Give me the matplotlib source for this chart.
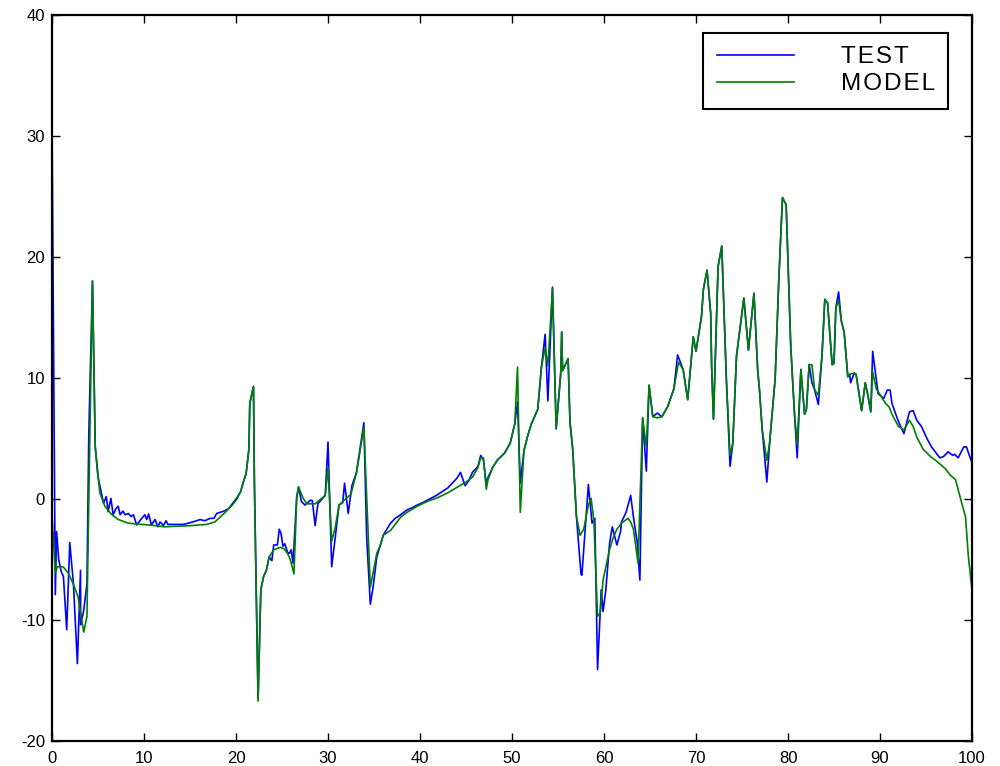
import matplotlib
matplotlib.use('Agg')
import matplotlib.pyplot as plt

# TEST response (blue)
test_x = [0, 0.36, 0.5, 0.73, 1.0, 1.24, 1.6, 1.93, 2.33, 2.76, 3.1, 3.12, 3.45,
          3.8, 4.0, 4.4, 4.7, 5.0, 5.3, 5.6, 5.9, 6.1, 6.4, 6.65, 6.95, 7.2, 7.4,
          7.7, 7.95, 8.3, 8.6, 8.85, 9.2, 9.75, 10.1, 10.3, 10.5, 10.8, 11.2,
          11.5, 11.75, 12.1, 12.4, 12.6, 13.2, 14.3, 15.3, 16.1, 16.6, 17.2, 17.6,
          17.9, 18.7, 19.2, 19.6, 20.1, 20.5, 20.8, 21.1,
          21.4, 21.5, 21.9, 22.0, 22.4, 22.7, 23.0, 23.3, 23.6, 23.9, 24.1, 24.5,
          24.7, 24.9, 25.1, 25.3, 25.6, 25.8, 26.0, 26.2, 26.6, 26.8, 27.1, 27.5,
          28.1, 28.3, 28.6, 28.9, 29.7, 30.0, 30.4, 30.8, 31.2, 31.6, 31.8, 32.2,
          32.6, 33.1, 33.9, 34.2, 34.6, 34.9, 35.3, 35.7, 36.0, 36.8, 37.3, 37.9,
          38.6, 39.2, 39.7, 40.3, 41.2, 41.8, 42.4, 43.0, 43.5, 44.0, 44.4, 44.9,
          45.3, 45.7, 46.3, 46.6, 46.9, 47.2, 47.4, 47.9, 48.4, 49.2, 49.8, 50.3,
          50.6, 50.9, 51.3, 51.7, 52.1, 52.8, 53.2, 53.6, 53.9, 54.4, 54.8, 55.3,
          55.4, 55.5, 56.1, 56.3, 56.6, 57.0, 57.5, 57.6, 58.3, 58.7, 59.0, 59.3,
          59.7, 59.9, 60.2, 60.6, 60.9, 61.4, 61.8, 61.9, 62.4, 62.9, 63.2, 63.6,
          63.9, 64.2, 64.6, 64.9, 65.3, 65.8, 66.1, 66.3, 66.9, 67.6, 68.0, 68.6,
          69.1, 69.7, 70.0, 70.6, 70.8, 71.2, 71.6, 71.7, 71.9, 72.4, 72.8, 73.3,
          73.7, 74.0, 74.4, 74.8, 75.2, 75.7, 76.3, 76.7, 76.9, 77.2, 77.7, 78.0,
          78.6, 79.0, 79.4, 79.8, 80.3, 80.7, 81.0, 81.4, 81.8, 82.0, 82.3, 82.6,
          82.9, 83.3, 83.7, 84.0, 84.3, 84.8, 85.0, 85.2, 85.5, 85.8, 86.1, 86.5,
          86.7, 86.8, 87.2, 87.4, 88.0, 88.4, 88.7, 89.0, 89.2, 89.8, 90.4, 90.8,
          91.1, 91.3, 92.0, 92.6, 93.2, 93.6, 94.0, 94.5, 95.1, 95.6, 96.5, 96.9,
          97.4, 97.9, 98.1, 98.5, 99.1, 99.4, 99.8, 100]
test_y = [31.1, -7.9, -2.7, -5.0, -6.0, -6.4, -10.8, -3.6, -7.0, -13.6, -5.9,
          -10.4, -9.2, -7.0, 5.4, 18.0, 4.3, 1.8, 0.75, -0.35, 0.2, -1.05, 0.05,
          -1.3, -0.8, -0.6, -1.3, -1.0, -1.3, -1.2, -1.45, -1.3, -2.15, -1.6,
          -1.3, -1.7, -1.24, -2.15, -1.7, -2.3, -1.9, -2.2, -1.8, -2.1, -2.1,
          -2.1, -1.9, -1.7, -1.8, -1.6, -1.6, -1.2, -1.0, -0.8, -0.4,
          0.1, 0.6, 1.4, 2.1, 4.1, 7.9, 9.3, 1.3, -16.5, -7.5, -6.4, -5.9, -4.8,
          -5.1, -3.8, -3.8, -2.5, -2.85, -3.9, -3.7, -4.4, -4.5, -4.2, -5.3, 0.2,
          1.0, -0.2, -0.5, -0.1, -0.15, -2.2, -0.4, 0.3, 4.7, -5.6, -3.1, -0.5,
          -0.3, 1.3, -1.2, 1.1, 2.2, 6.3, -3.1, -8.7, -7.3, -4.8, -3.8, -3.0, -2.0,
          -1.6, -1.3, -0.9, -0.7, -0.5, -0.3, 0.06, 0.3, 0.6, 0.9, 1.3, 1.7, 2.2,
          1.1, 1.5, 2.2, 2.7, 3.6, 3.2, 1.2, 1.8, 2.6, 3.2, 3.8, 4.6, 6.2, 8.0,
          1.3, 4.0, 5.2, 6.2, 7.4, 10.9, 13.6, 8.1, 17.5, 5.8, 10.4, 13.8, 10.6,
          11.6, 6.4, 4.1, -1.4, -6.2, -6.3, 1.2, -2.0, -1.6, -14.1, -7.5, -9.3,
          -7.5, -3.7, -2.3, -3.8, -2.7, -1.9, -1.1, 0.3, -1.5, -3.5, -6.7, 6.7,
          2.3, 9.4, 6.8, 7.1, 6.9, 6.8, 7.6, 9.1, 11.9, 10.7, 8.2, 13.4, 12.2,
          15.1, 17.3, 18.9, 15.3, 10.9, 6.6, 19.2, 20.9, 9.9, 2.7, 4.6, 11.8,
          14.2, 16.6, 12.3, 17.0, 10.7, 9.0, 5.7, 1.4, 4.6, 9.9, 18.1, 24.9, 24.3,
          12.6, 7.1, 3.4, 10.7, 7.0, 7.4, 11.1, 9.6, 9.0, 7.8, 11.9, 16.5, 16.2,
          11.1, 11.2, 15.8, 17.1, 14.7, 13.8, 10.1, 10.3, 9.6, 10.4, 10.3, 7.3,
          9.6, 8.5, 7.2, 12.2, 8.7, 8.3, 9.0, 9.0, 7.9, 6.4, 5.4, 7.2, 7.3, 6.5,
          6.0, 5.0, 4.3, 3.4, 3.5, 3.9, 3.6, 3.7, 3.4, 4.3, 4.3, 3.4, 3.0]

# MODEL response (green)
model_x = [0, 0.36, 0.58, 1.2, 1.75, 2.3, 2.84, 3.1, 3.45, 3.8, 4.0, 4.4, 4.7,
           5.2, 5.75, 6.5, 7.2, 8.3, 9.75, 11.2, 12.2, 15.1, 16.8, 17.7, 18.7,
           19.6, 20.1, 20.5, 20.8, 21.1, 21.4, 21.5, 21.9, 22.0, 22.4, 22.7,
           23.0, 23.3, 23.6, 24.1, 24.8, 25.2, 25.6, 25.9, 26.3, 26.6, 26.8,
           27.3, 27.7, 28.6, 29.7, 30.0, 30.4, 30.8, 31.2, 32.5, 33.1, 33.9,
           34.6, 35.3, 35.7, 36.0, 36.8, 37.9, 38.6, 39.7, 40.8, 41.9, 43.0,
           44.1, 45.0, 45.7, 46.3, 46.6, 46.9, 47.2, 47.4, 47.9, 48.4, 49.2,
           49.8, 50.3, 50.6, 50.9, 51.3, 51.7, 52.1, 52.8, 53.2, 53.6, 53.9,
           54.4, 54.8, 55.3, 55.4, 55.5, 56.1, 56.3, 56.6, 57.0, 57.4, 57.8,
           58.3, 58.6, 58.9, 59.3, 59.6, 59.9, 60.6, 61.0, 61.4, 61.9, 62.6,
           62.9, 63.2, 63.7, 64.2, 64.6, 64.9, 65.3, 65.8, 66.3, 66.9, 67.6,
           68.1, 68.6, 69.1, 69.7, 70.0, 70.6, 70.8, 71.2, 71.6, 71.7, 71.9,
           72.4, 72.8, 73.3, 73.7, 74.0, 74.4, 74.8, 75.2, 75.7, 76.3, 76.7,
           76.9, 77.2, 77.7, 78.0, 78.6, 79.0, 79.4, 79.8, 80.3, 80.7, 81.0,
           81.4, 81.8, 82.0, 82.3, 82.6, 82.9, 83.3, 83.7, 84.0, 84.3, 84.8,
           85.0, 85.2, 85.5, 85.8, 86.1, 86.5, 86.7, 87.2, 87.4, 88.0, 88.4,
           88.7, 89.0, 89.2, 89.6, 90.1, 90.6, 91.0, 91.3, 92.0, 92.6, 93.2,
           93.6, 94.0, 94.7, 95.5, 96.2, 97.1, 97.6, 98.2, 98.7, 99.3, 99.6, 100]
model_y = [-1.3, -6.1, -5.6, -5.6, -6.1, -7.0, -8.1, -9.4, -11.0, -9.7, -0.1,
           18.0, 4.3, 0.5, -0.6, -1.3, -1.7, -2.0, -2.1, -2.2, -2.3, -2.2,
           -2.1, -1.9, -1.2, -0.5, 0.0, 0.6, 1.4, 2.1, 4.1, 7.9, 9.3, 1.3, -16.7,
           -7.5, -6.4, -5.9, -4.8, -4.2, -4.0, -4.1, -4.5, -5.0, -6.2, 0.05, 1.0,
           0.05, -0.4, -0.4, 0.3, 2.6, -3.5, -2.3, -0.5, 0.4, 2.2, 5.9, -7.3,
           -4.5, -3.8, -3.0, -2.6, -1.5, -1.1, -0.6, -0.2, 0.1, 0.5, 1.0, 1.4,
           1.8, 2.6, 3.4, 3.4, 0.8, 1.6, 2.6, 3.2, 3.8, 4.6, 6.2, 10.9, -1.1,
           4.0, 5.2, 6.2, 7.4, 10.9, 12.5, 11.0, 17.4, 5.8, 10.4, 13.8, 10.6,
           11.6, 6.4, 4.1, -1.4, -3.0, -2.5, -0.5, 0.05, -1.8, -9.7, -9.4, -6.7,
           -4.2, -3.2, -2.5, -2.0, -1.6, -1.9, -2.5, -5.3, 6.7, 4.3, 9.4, 6.8,
           6.7, 6.8, 7.6, 9.1, 11.3, 10.7, 8.2, 13.4, 12.2, 15.1, 17.3, 18.9,
           15.3, 10.9, 6.6, 19.2, 20.9, 9.9, 3.6, 4.6, 11.8, 14.2, 16.6, 12.3,
           17.0, 10.7, 9.0, 5.7, 3.2, 4.6, 9.9, 18.1, 24.9, 24.3, 12.6, 7.1,
           4.5, 10.7, 7.0, 7.4, 11.1, 11.1, 9.0, 8.6, 11.9, 16.5, 16.2, 11.1,
           11.2, 15.8, 16.4, 14.7, 13.8, 10.1, 10.3, 10.4, 10.3, 7.3, 9.6, 8.5,
           7.2, 10.5, 9.1, 8.5, 7.9, 7.6, 7.0, 6.0, 5.7, 6.5, 6.0, 5.1, 4.1,
           3.5, 3.1, 2.5, 2.0, 1.6, 0.2, -1.5, -4.7, -7.5]

x_ticks = [0, 10, 20, 30, 40, 50, 60, 70, 80, 90, 100]
y_ticks = [-20, -10, 0, 10, 20, 30, 40]

plt.rcParams['font.family'] = ['Liberation Sans', 'DejaVu Sans']
plt.rcParams['axes.unicode_minus'] = False

fig = plt.figure(figsize=(10, 7.66), dpi=100)
ax = fig.add_axes([0.052, 0.0326, 0.920, 0.948])

ax.plot(test_x, test_y, color='#0000ff', lw=1.2, label='TEST')
ax.plot(model_x, model_y, color='#007f00', lw=1.2, label='MODEL')

ax.set_xlim(0, 100)
ax.set_ylim(-20, 40)
ax.set_xticks(x_ticks)
ax.set_yticks(y_ticks)
ax.tick_params(direction='in', length=6, width=1, top=True, right=True,
               labelsize=12)
ax.tick_params(axis='x', pad=7)
ax.tick_params(axis='y', pad=5)
for side in ax.spines.values():
    side.set_linewidth(1.6)

# letter-spaced labels, as in the original legend
labels = ['\u200a'.join(s) for s in ('TEST', 'MODEL')]
leg = ax.legend(ax.lines, labels, loc='upper right',
                bbox_to_anchor=(0.974, 0.975), borderaxespad=0,
                fontsize=17.5, handlelength=3.2, handletextpad=1.9,
                labelspacing=0.2, borderpad=0.55, fancybox=False,
                framealpha=1, edgecolor='black')
leg.get_frame().set_linewidth(1.5)

plt.savefig('out.png', dpi=100)
